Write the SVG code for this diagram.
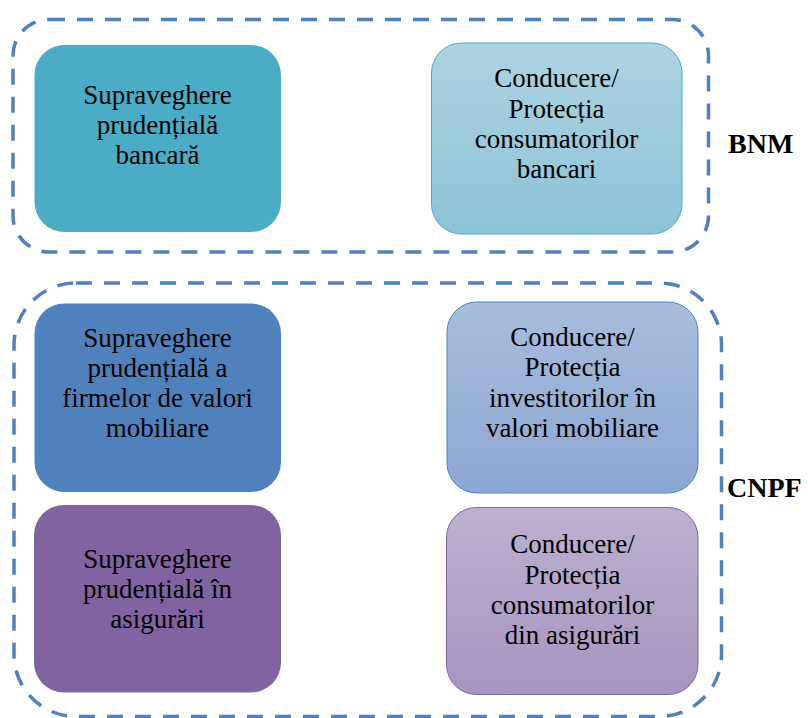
<svg xmlns="http://www.w3.org/2000/svg" width="808" height="718" viewBox="0 0 808 718">
  <style>
    .group-frame { fill: none; stroke: #4F81BD; stroke-width: 3.5; stroke-dasharray: 16 12; }
    .label { font-family: "Liberation Serif", "Times New Roman", serif; font-size: 27px; fill: #000; text-anchor: middle; }
    .org { font-family: "Liberation Serif", "Times New Roman", serif; font-size: 28px; font-weight: bold; fill: #000; }
  </style>
  <defs>
    <linearGradient id="gradTeal" x1="0" y1="0" x2="0" y2="1">
      <stop offset="0" stop-color="#AED3E1"/>
      <stop offset="1" stop-color="#8CC3D7"/>
    </linearGradient>
    <linearGradient id="gradBlue" x1="0" y1="0" x2="0" y2="1">
      <stop offset="0" stop-color="#A9BDDC"/>
      <stop offset="1" stop-color="#8CA7D3"/>
    </linearGradient>
    <linearGradient id="gradPurple" x1="0" y1="0" x2="0" y2="1">
      <stop offset="0" stop-color="#BDB0D0"/>
      <stop offset="1" stop-color="#A695BF"/>
    </linearGradient>
  </defs>

  <!-- dashed institution frames -->
  <g id="frames">
    <rect id="frame-bnm" class="group-frame" x="13" y="19.5" width="695.5" height="232.5" rx="36" ry="36"/>
    <rect id="frame-cnpf" class="group-frame" x="14" y="283" width="707.5" height="433.5" rx="62" ry="62"/>
  </g>

  <g id="node-bank-prudential">
    <rect x="34.5" y="45" width="246.5" height="187" rx="30" ry="30" fill="#4BACC6"/>
    <text class="label" x="157.5" y="104">Supraveghere</text>
    <text class="label" x="157.5" y="134">prudențială</text>
    <text class="label" x="157.5" y="163.5">bancară</text>
  </g>

  <g id="node-bank-consumers">
    <rect x="431.5" y="43" width="250.5" height="191" rx="30" ry="30" fill="url(#gradTeal)" stroke="#4BACC6" stroke-width="1"/>
    <text class="label" x="556.5" y="87">Conducere/</text>
    <text class="label" x="556.5" y="117.5">Protecția</text>
    <text class="label" x="556.5" y="148">consumatorilor</text>
    <text class="label" x="556.5" y="178">bancari</text>
  </g>

  <g id="node-securities-prudential">
    <rect x="34.5" y="303.5" width="246.5" height="188.5" rx="30" ry="30" fill="#4F81BD"/>
    <text class="label" x="157.5" y="347">Supraveghere</text>
    <text class="label" x="157.5" y="377">prudențială a</text>
    <text class="label" x="157.5" y="407">firmelor de valori</text>
    <text class="label" x="157.5" y="437">mobiliare</text>
  </g>

  <g id="node-securities-investors">
    <rect x="447" y="302" width="251" height="191" rx="30" ry="30" fill="url(#gradBlue)" stroke="#4F81BD" stroke-width="1"/>
    <text class="label" x="572.5" y="345.5">Conducere/</text>
    <text class="label" x="572.5" y="376">Protecția</text>
    <text class="label" x="572.5" y="407">investitorilor în</text>
    <text class="label" x="572.5" y="437">valori mobiliare</text>
  </g>

  <g id="node-insurance-prudential">
    <rect x="34" y="505" width="247" height="187.5" rx="30" ry="30" fill="#8064A2"/>
    <text class="label" x="157.5" y="567.5">Supraveghere</text>
    <text class="label" x="157.5" y="598">prudențială în</text>
    <text class="label" x="157.5" y="628">asigurări</text>
  </g>

  <g id="node-insurance-consumers">
    <rect x="446.5" y="507.5" width="251.5" height="187" rx="30" ry="30" fill="url(#gradPurple)" stroke="#8064A2" stroke-width="1"/>
    <text class="label" x="572.5" y="553">Conducere/</text>
    <text class="label" x="572.5" y="583.5">Protecția</text>
    <text class="label" x="572.5" y="614">consumatorilor</text>
    <text class="label" x="572.5" y="644">din asigurări</text>
  </g>

  <g id="org-labels">
    <text class="org" x="728" y="153">BNM</text>
    <text class="org" x="727" y="497">CNPF</text>
  </g>

  <!-- no connectors in this diagram -->
  <g id="connectors"/>
</svg>
